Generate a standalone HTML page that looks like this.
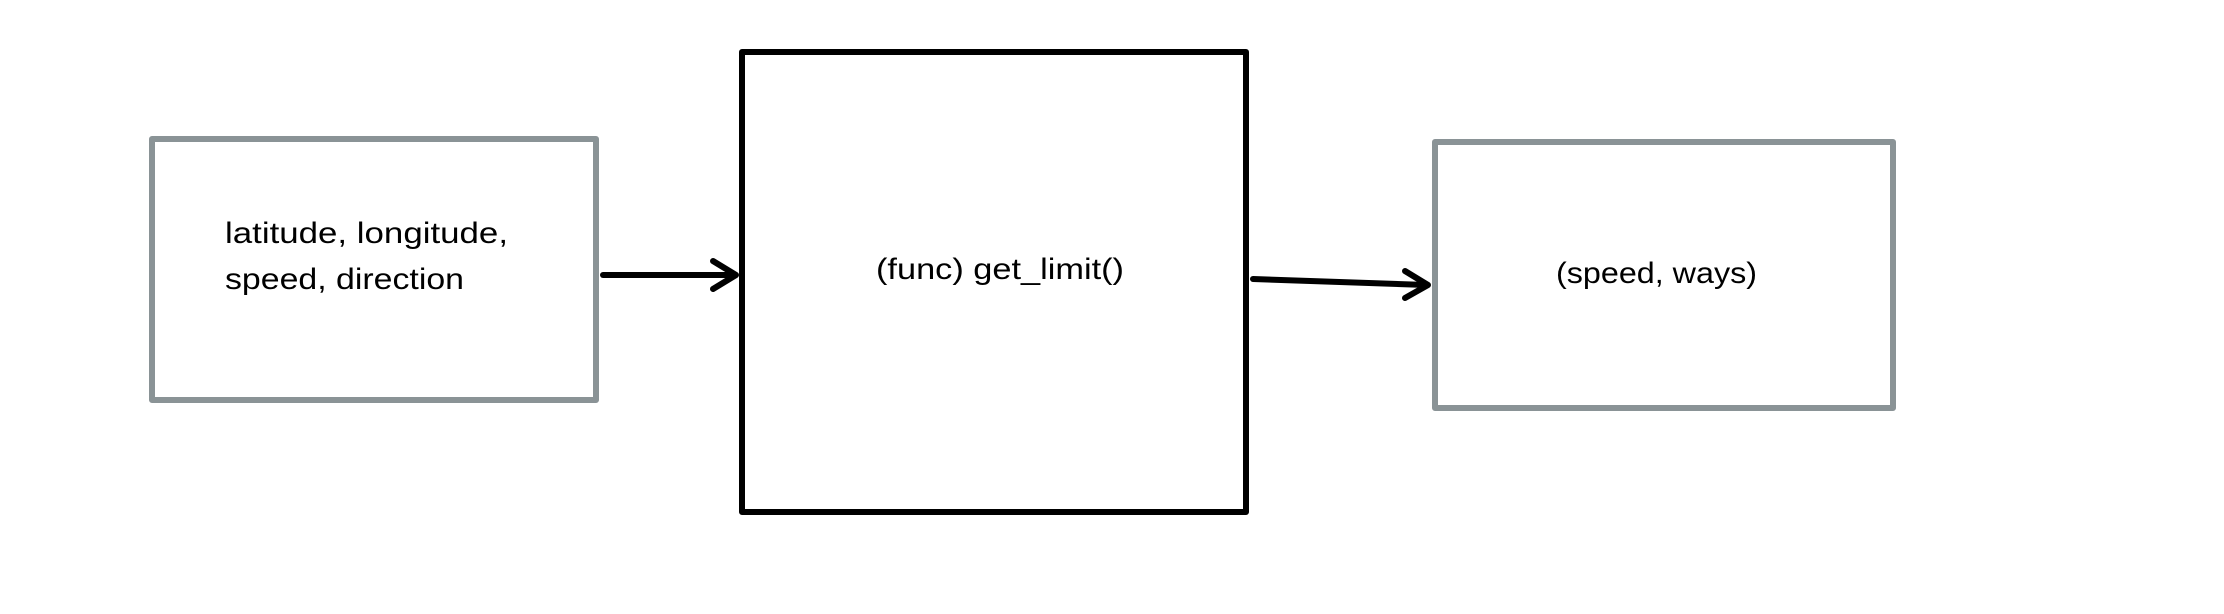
<!DOCTYPE html>
<html><head><style>html,body{margin:0;padding:0;background:#fff;width:2224px;height:614px;overflow:hidden}</style></head>
<body>
<svg width="2224" height="614" viewBox="0 0 2224 614" xmlns="http://www.w3.org/2000/svg">
<g fill="none" stroke-linejoin="round" stroke-linecap="round">
<rect x="152" y="139" width="444" height="261" stroke="#8a9396" stroke-width="6"/>
<rect x="742" y="52" width="504" height="460" stroke="#000" stroke-width="6"/>
<rect x="1435" y="142" width="458" height="266" stroke="#8a9396" stroke-width="6"/>
<path d="M603 275 L735 275" stroke="#000" stroke-width="6"/>
<path d="M713 261 L736 275 L713 289" stroke="#000" stroke-width="6"/>
<path d="M1253 279 L1427 285" stroke="#000" stroke-width="6"/>
<path d="M1405 271 L1428 285 L1405 298" stroke="#000" stroke-width="6"/>
</g>
<g font-family="Liberation Sans, sans-serif" font-size="30" fill="#000">
<text x="225" y="243" textLength="283" lengthAdjust="spacingAndGlyphs">latitude, longitude,</text>
<text x="225" y="289" textLength="239" lengthAdjust="spacingAndGlyphs">speed, direction</text>
<text x="876" y="279" textLength="248" lengthAdjust="spacingAndGlyphs">(func) get_limit()</text>
<text x="1556" y="283" textLength="201" lengthAdjust="spacingAndGlyphs">(speed, ways)</text>
</g>
</svg>
</body></html>
